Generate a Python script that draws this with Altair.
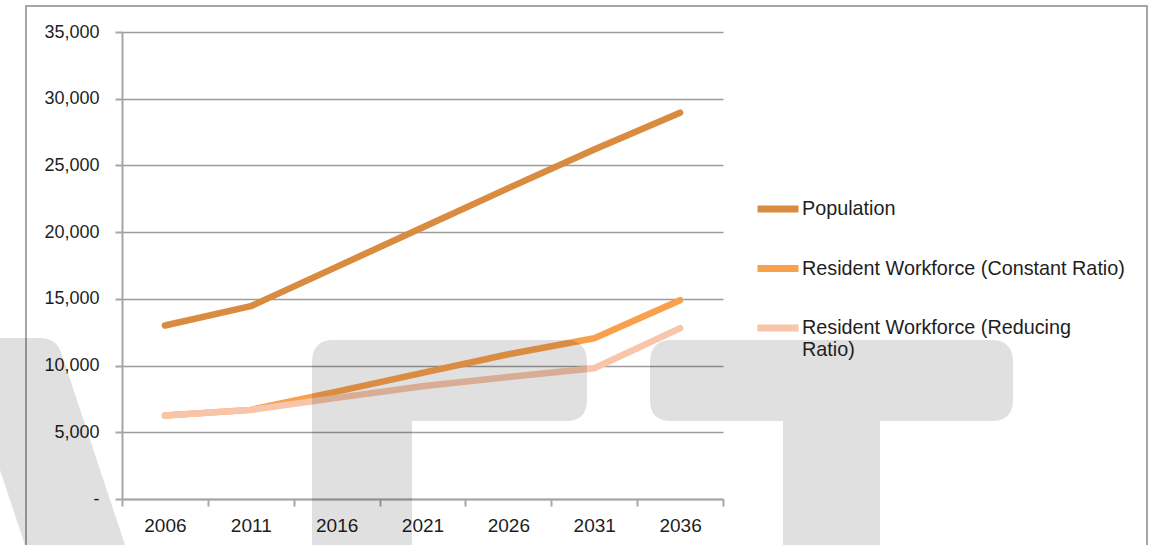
import altair as alt
import pandas as pd

# ---------------- data ----------------
years = [2006, 2011, 2016, 2021, 2026, 2031, 2036]
population = [13000, 14450, 17400, 20350, 23300, 26200, 28950]
workforce_constant = [6250, 6680, 8050, 9450, 10850, 12050, 14900]
workforce_reducing = [6250, 6680, 7580, 8450, 9150, 9800, 12800]

series_names = [
    "Population",
    "Resident Workforce (Constant Ratio)",
    "Resident Workforce (Reducing Ratio)",
]
series_colors = ["#D98B40", "#F9A04C", "#F8C5AA"]

y_ticks = [0, 5000, 10000, 15000, 20000, 25000, 30000, 35000]

rows = []
for name, vals in zip(series_names, [population, workforce_constant, workforce_reducing]):
    for yr, v in zip(years, vals):
        rows.append({"Year": yr, "Value": v, "Series": name})
df = pd.DataFrame(rows)

FONT = "Liberation Sans"
GRID = "#9C9C9C"
AXIS = "#A6A6A6"
TEXT = "#1E1E1E"

# plot area: x 122..723, y 32..499 in the page
PL, PT, PW, PH = 122, 32, 601, 467

lines = alt.Chart(df).mark_line(
    strokeWidth=6.5, strokeCap="round", strokeJoin="round"
).encode(
    x=alt.X(
        "Year:O",
        bandPosition=0.5,
        scale=alt.Scale(type="band", domain=years, paddingInner=0, paddingOuter=0),
        axis=alt.Axis(
            title=None,
            grid=False,
            tickBand="extent",
            labelAngle=0,
            tickSize=7,
            tickColor=AXIS,
            tickWidth=2,
            domainColor=AXIS,
            domainWidth=2,
            labelPadding=10,
            labelFontSize=19,
            labelFont=FONT,
            labelColor=TEXT,
        ),
    ),
    y=alt.Y(
        "Value:Q",
        scale=alt.Scale(domain=[0, 35000], nice=False),
        axis=alt.Axis(
            values=y_ticks,
            title=None,
            grid=True,
            gridColor=GRID,
            gridWidth=1.6,
            labelExpr="datum.value == 0 ? '-' : format(datum.value, ',')",
            tickSize=7,
            tickColor=AXIS,
            tickWidth=2,
            domainColor=AXIS,
            domainWidth=2,
            labelPadding=16,
            labelFontSize=18,
            labelFont=FONT,
            labelColor=TEXT,
        ),
    ),
    color=alt.Color(
        "Series:N",
        scale=alt.Scale(domain=series_names, range=series_colors),
        legend=alt.Legend(
            title=None,
            orient="none",
            legendX=632,
            legendY=153,
            padding=0,
            symbolType="stroke",
            symbolSize=1681,
            symbolStrokeWidth=7,
            labelFontSize=19.8,
            labelFont=FONT,
            labelColor=TEXT,
            labelOffset=0,
            labelLimit=500,
            rowPadding=21.5,
            labelExpr="datum.label == 'Resident Workforce (Reducing Ratio)' ? ['Resident Workforce (Reducing', 'Ratio)'] : datum.label",
        ),
    ),
)

# outer frame of the original figure (decoration)
frame = alt.Chart(pd.DataFrame({"d": [0]})).mark_rect(
    fillOpacity=0, stroke=AXIS, strokeWidth=2
).encode(
    x=alt.value(26 - PL), x2=alt.value(1147 - PL),
    y=alt.value(6 - PT), y2=alt.value(600 - PT),
)

# large translucent "DRAFT" watermark shapes (decoration), page pixel outline
CX, CY, R = 580.0, 450.0, 600.0
wm_cmds = [
    ("M", [(-30, 338)]), ("L", [(40, 338)]), ("Q", [(56, 338), (61, 352)]),
    ("L", [(130, 560)]), ("L", [(30, 560)]), ("L", [(-30, 380)]), ("Z", []),
    ("M", [(312, 362)]), ("Q", [(312, 340), (334, 340)]), ("L", [(565, 340)]),
    ("Q", [(587, 340), (587, 362)]), ("L", [(587, 400)]), ("Q", [(587, 421), (566, 421)]),
    ("L", [(412, 421)]), ("L", [(412, 560)]), ("L", [(312, 560)]), ("Z", []),
    ("M", [(650, 362)]), ("Q", [(650, 340), (672, 340)]), ("L", [(991, 340)]),
    ("Q", [(1013, 340), (1013, 362)]), ("L", [(1013, 400)]), ("Q", [(1013, 421), (992, 421)]),
    ("L", [(880, 421)]), ("L", [(880, 560)]), ("L", [(783, 560)]), ("L", [(783, 421)]),
    ("L", [(671, 421)]), ("Q", [(650, 421), (650, 400)]), ("Z", []),
]
parts = []
for cmd, pts in wm_cmds:
    parts.append(cmd + " " + " ".join(f"{(px - CX) / R:.5f} {(py - CY) / R:.5f}" for px, py in pts))
wm_path = " ".join(parts)

watermark = alt.Chart(pd.DataFrame({"d": [0]})).mark_point(
    shape=wm_path, filled=True, fill="black", opacity=0.12, strokeWidth=0, size=4 * R * R
).encode(
    x=alt.value(CX - PL), y=alt.value(CY - PT)
)

chart = alt.layer(frame, lines, watermark).properties(
    width=PW,
    height=PH,
    autosize=alt.AutoSizeParams(type="none"),
    padding={"left": PL, "top": PT, "right": 1160 - PL - PW, "bottom": 545 - PT - PH},
    background="white",
).configure_view(stroke=None)

chart.save("out.html", embed_options={"renderer": "svg", "actions": False})
